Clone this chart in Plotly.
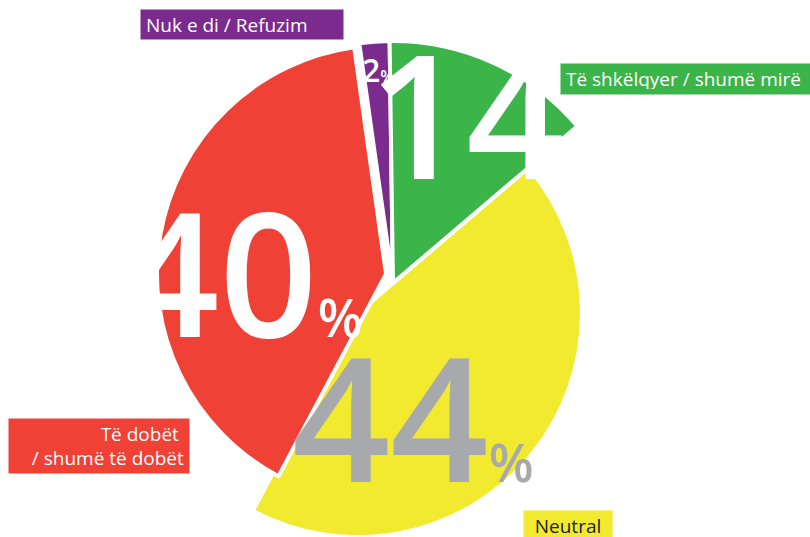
import plotly.graph_objects as go

W, H = 810, 537

# Survey answer categories and their shares (%)
CATEGORIES = ["Nuk e di / Refuzim", "Të shkëlqyer / shumë mirë", "Neutral", "Të dobët / shumë të dobët"]
SHARES = [2, 14, 44, 40]
BOX_TEXT = ["Nuk e di / Refuzim", "Të shkëlqyer / shumë mirë", "Neutral", "Të dobët <br>/ shumë të dobët"]

COLORS = ["#7B2A8D", "#3BB44A", "#F2EA2F", "#EF4136"]
NUMBER_COLORS = ["white", "white", "#A7A9AC", "white"]
BOX_TEXT_COLORS = ["white", "white", "#231F20", "white"]

ROTATION = -8
FONT = "Open Sans"

# each slice gets its own pie layer: (centre x px, centre y px, radius px)
WEDGES = {
    2: (358, 313, 224),
    3: (386, 274, 229),
    0: (393, 283, 242),
    1: (393, 283, 242),
}
DRAW_ORDER = [2, 3, 0, 1]


def pie_domain(cx, cy, r):
    clamp = lambda v: min(1.0, max(0.0, v))
    return dict(
        x=[clamp((cx - r) / W), clamp((cx + r) / W)],
        y=[clamp((H - cy - r) / H), clamp((H - cy + r) / H)],
    )


fig = go.Figure()
for i in DRAW_ORDER:
    cx, cy, r = WEDGES[i]
    fills = [COLORS[j] if j == i else "rgba(0,0,0,0)" for j in range(len(SHARES))]
    widths = [4 if j == i else 0 for j in range(len(SHARES))]
    fig.add_trace(go.Pie(
        values=SHARES,
        labels=CATEGORIES,
        sort=False,
        direction="clockwise",
        rotation=ROTATION,
        marker=dict(colors=fills, line=dict(color="white", width=widths)),
        textinfo="none",
        hoverinfo="skip",
        showlegend=False,
        domain=pie_domain(cx, cy, r),
    ))

# big percentage figures: (x px, y px, xanchor, digit size, % size)
NUMBER_POS = [
    (360, 70, "left", 32, 17),
    (366, 112, "left", 172, 52),
    (413, 415, "center", 172, 52),
    (242, 270, "center", 172, 52),
]

annotations = []
for i, v in enumerate(SHARES):
    x, y, xa, size, psize = NUMBER_POS[i]
    annotations.append(dict(
        x=x / W, y=1 - y / H, xref="paper", yref="paper",
        xanchor=xa, yanchor="middle", showarrow=False,
        text=f"{v}<span style='font-size:{psize}px'>%</span>",
        font=dict(family=FONT, size=size, color=NUMBER_COLORS[i], weight=600),
    ))

# category boxes: (left px, top px, inner width, inner height, align)
BOX_POS = [
    (140, 9, 192, 19, "left"),
    (560, 63, 240, 20, "left"),
    (523, 510, 78, 20, "center"),
    (8, 418, 170, 44, "right"),
]
for i, label in enumerate(BOX_TEXT):
    x, y, w, h, al = BOX_POS[i]
    annotations.append(dict(
        x=x / W, y=1 - y / H, xref="paper", yref="paper",
        xanchor="left", yanchor="top", showarrow=False,
        text=label, align=al, valign="middle",
        width=w, height=h, borderpad=5, bgcolor=COLORS[i],
        font=dict(family=FONT, size=19, color=BOX_TEXT_COLORS[i]),
    ))

fig.update_layout(
    width=W, height=H,
    margin=dict(l=0, r=0, t=0, b=0),
    paper_bgcolor="white",
    plot_bgcolor="white",
    annotations=annotations,
    showlegend=False,
)

fig.write_html("out.html")
